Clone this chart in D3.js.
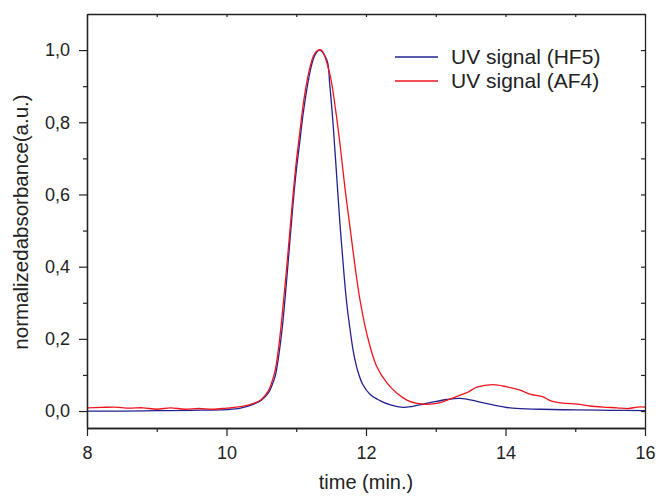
<!DOCTYPE html>
<html>
<head>
<meta charset="utf-8">
<script src="https://cdn.jsdelivr.net/npm/d3@7"></script>
<style>
  body { margin: 0; background: #fff; }
  svg { display: block; font-family: "Liberation Sans", Arial, sans-serif; }
  .line { fill: none; stroke-width: 1.3; }
</style>
</head>
<body>
<div id="graph-div"></div>
<script>
'use strict'

// time (min.) / normalized absorbance
const hf5_time = [8.0, 8.5, 9.0, 9.5, 10.0, 10.2, 10.4, 10.5, 10.6, 10.65, 10.7, 10.75, 10.8, 10.85, 10.9, 10.95,
  11.0, 11.05, 11.1, 11.15, 11.2, 11.25, 11.3, 11.34, 11.44, 11.48, 11.53, 11.58, 11.63, 11.68, 11.72, 11.77,
  11.82, 11.88, 11.95, 12.06, 12.2, 12.35, 12.53, 12.67, 12.92, 13.16, 13.35, 13.59, 13.82, 14.1, 14.5, 15.0, 15.5, 16.0]
const hf5_value = [0.000, 0.000, 0.001, 0.002, 0.004, 0.008, 0.020, 0.030, 0.050, 0.070, 0.098, 0.155, 0.232, 0.335, 0.450, 0.565,
  0.665, 0.745, 0.825, 0.890, 0.942, 0.978, 0.996, 1.000, 0.972, 0.905, 0.790, 0.650, 0.510, 0.390, 0.305, 0.228,
  0.163, 0.112, 0.075, 0.046, 0.029, 0.017, 0.010, 0.013, 0.023, 0.032, 0.035, 0.027, 0.017, 0.008, 0.005, 0.003, 0.002, 0.001]

const af4_time = [8.0, 8.2, 8.4, 8.6, 8.8, 9.0, 9.2, 9.4, 9.6, 9.8, 10.0, 10.2, 10.4, 10.5, 10.6, 10.65, 10.7, 10.75,
  10.8, 10.85, 10.9, 10.95, 11.0, 11.05, 11.1, 11.15, 11.2, 11.25, 11.3, 11.36, 11.48, 11.56, 11.63, 11.7, 11.77,
  11.84, 11.91, 12.01, 12.15, 12.3, 12.44, 12.58, 12.73, 12.92, 13.06, 13.2, 13.35, 13.46, 13.59, 13.82, 14.02,
  14.21, 14.35, 14.54, 14.64, 14.82, 15.03, 15.21, 15.4, 15.6, 15.76, 15.89, 16.0]
const af4_value = [0.009, 0.010, 0.011, 0.008, 0.009, 0.005, 0.009, 0.005, 0.007, 0.005, 0.008, 0.012, 0.022, 0.032, 0.056, 0.080, 0.115, 0.180,
  0.270, 0.370, 0.480, 0.590, 0.690, 0.770, 0.850, 0.910, 0.955, 0.985, 0.998, 1.000, 0.935, 0.840, 0.735, 0.615, 0.510,
  0.405, 0.312, 0.215, 0.125, 0.078, 0.050, 0.031, 0.021, 0.019, 0.023, 0.033, 0.044, 0.052, 0.066, 0.073, 0.067,
  0.058, 0.047, 0.039, 0.029, 0.022, 0.019, 0.014, 0.011, 0.009, 0.007, 0.011, 0.011]

const series_names = ["UV signal (HF5)", "UV signal (AF4)"]
const series_colors = ["#22228f", "#f0141e"]

const x_ticks = [8, 10, 12, 14, 16]
const x_minor = [9, 11, 13, 15]
const y_ticks = [0.0, 0.2, 0.4, 0.6, 0.8, 1.0]
const y_minor = [0.1, 0.3, 0.5, 0.7, 0.9]

function doGraph(){
  let width = 659, height = 496
  let padding = {top: 14, bottom: 68, left: 87, right: 14}

  let svg = d3.select("#graph-div").append("svg").attr("width", width).attr("height", height)

  let xScale = d3.scaleLinear().domain([8, 16]).range([padding.left, width - padding.right])
  let yScale = d3.scaleLinear().domain([-0.047, 1.1]).range([height - padding.bottom, padding.top])

  let comma = d3.formatLocale({decimal: ",", thousands: ".", grouping: [3], currency: ["", ""]}).format(".1f")

  let series = [
    hf5_time.map((t, i) => ({t: t, v: hf5_value[i]})),
    af4_time.map((t, i) => ({t: t, v: af4_value[i]}))
  ]

  let line = d3.line().x(d => xScale(d.t)).y(d => yScale(d.v)).curve(d3.curveCatmullRom.alpha(0.5))

  let plot = svg.append("g")
  series.forEach(function(s, i){
    plot.append("path").datum(s).attr("class", "line")
      .attr("stroke", series_colors[i]).attr("d", line)
  })

  let bottom = height - padding.bottom, right = width - padding.right

  // axes
  function styleAxis(g, fs){
    g.select(".domain").attr("stroke", "#222").attr("stroke-width", 1.3)
    g.selectAll(".tick line").attr("stroke", "#222").attr("stroke-width", 1.2)
    g.selectAll("text").attr("fill", "#222").style("font-size", fs)
  }

  let gx = svg.append("g").attr("transform", "translate(0," + bottom + ")")
    .call(d3.axisBottom(xScale).tickValues(x_ticks).tickSize(8).tickSizeOuter(0).tickPadding(10).tickFormat(d3.format("d")))
  styleAxis(gx, "18px")
  let gxm = svg.append("g").attr("transform", "translate(0," + bottom + ")")
    .call(d3.axisBottom(xScale).tickValues(x_minor).tickSize(4).tickSizeOuter(0).tickFormat(""))
  styleAxis(gxm, "0px")

  let gy = svg.append("g").attr("transform", "translate(" + padding.left + ",0)")
    .call(d3.axisLeft(yScale).tickValues(y_ticks).tickSize(8).tickSizeOuter(0).tickPadding(9).tickFormat(comma))
  styleAxis(gy, "18px")
  let gym = svg.append("g").attr("transform", "translate(" + padding.left + ",0)")
    .call(d3.axisLeft(yScale).tickValues(y_minor).tickSize(4).tickSizeOuter(0).tickFormat(""))
  styleAxis(gym, "0px")

  // mirrored axes, inward ticks
  let gt = svg.append("g").attr("transform", "translate(0," + padding.top + ")")
    .call(d3.axisBottom(xScale).tickValues(x_ticks.concat(x_minor)).tickSize(3).tickSizeOuter(0).tickFormat(""))
  styleAxis(gt, "0px")
  let gr = svg.append("g").attr("transform", "translate(" + right + ",0)")
    .call(d3.axisLeft(yScale).tickValues(y_ticks.concat(y_minor)).tickSize(0).tickSizeOuter(0).tickFormat(""))
  gr.selectAll(".tick line").attr("x2", -4)
  styleAxis(gr, "0px")

  // axis titles
  svg.append("text").attr("x", (padding.left + right) / 2).attr("y", 489)
    .attr("text-anchor", "middle").style("font-size", "20px").attr("fill", "#222")
    .text("time (min.)")
  svg.append("text").attr("transform", "translate(28," + ((padding.top + bottom) / 2 + 1) + ") rotate(-90)")
    .attr("text-anchor", "middle").style("font-size", "20.5px").attr("fill", "#222")
    .text("normalizedabsorbance(a.u.)")

  // legend
  let legend = svg.append("g").attr("transform", "translate(395,57)")
  series_names.forEach(function(name, i){
    let row = legend.append("g").attr("transform", "translate(0," + (i * 24) + ")")
    row.append("line").attr("x1", 0).attr("x2", 43).attr("y1", 0).attr("y2", 0)
      .attr("stroke", series_colors[i]).attr("stroke-width", 1.3)
    row.append("text").attr("x", 56).attr("y", 7).style("font-size", "21px").attr("fill", "#222").text(name)
  })
}

doGraph()
</script>
</body>
</html>
